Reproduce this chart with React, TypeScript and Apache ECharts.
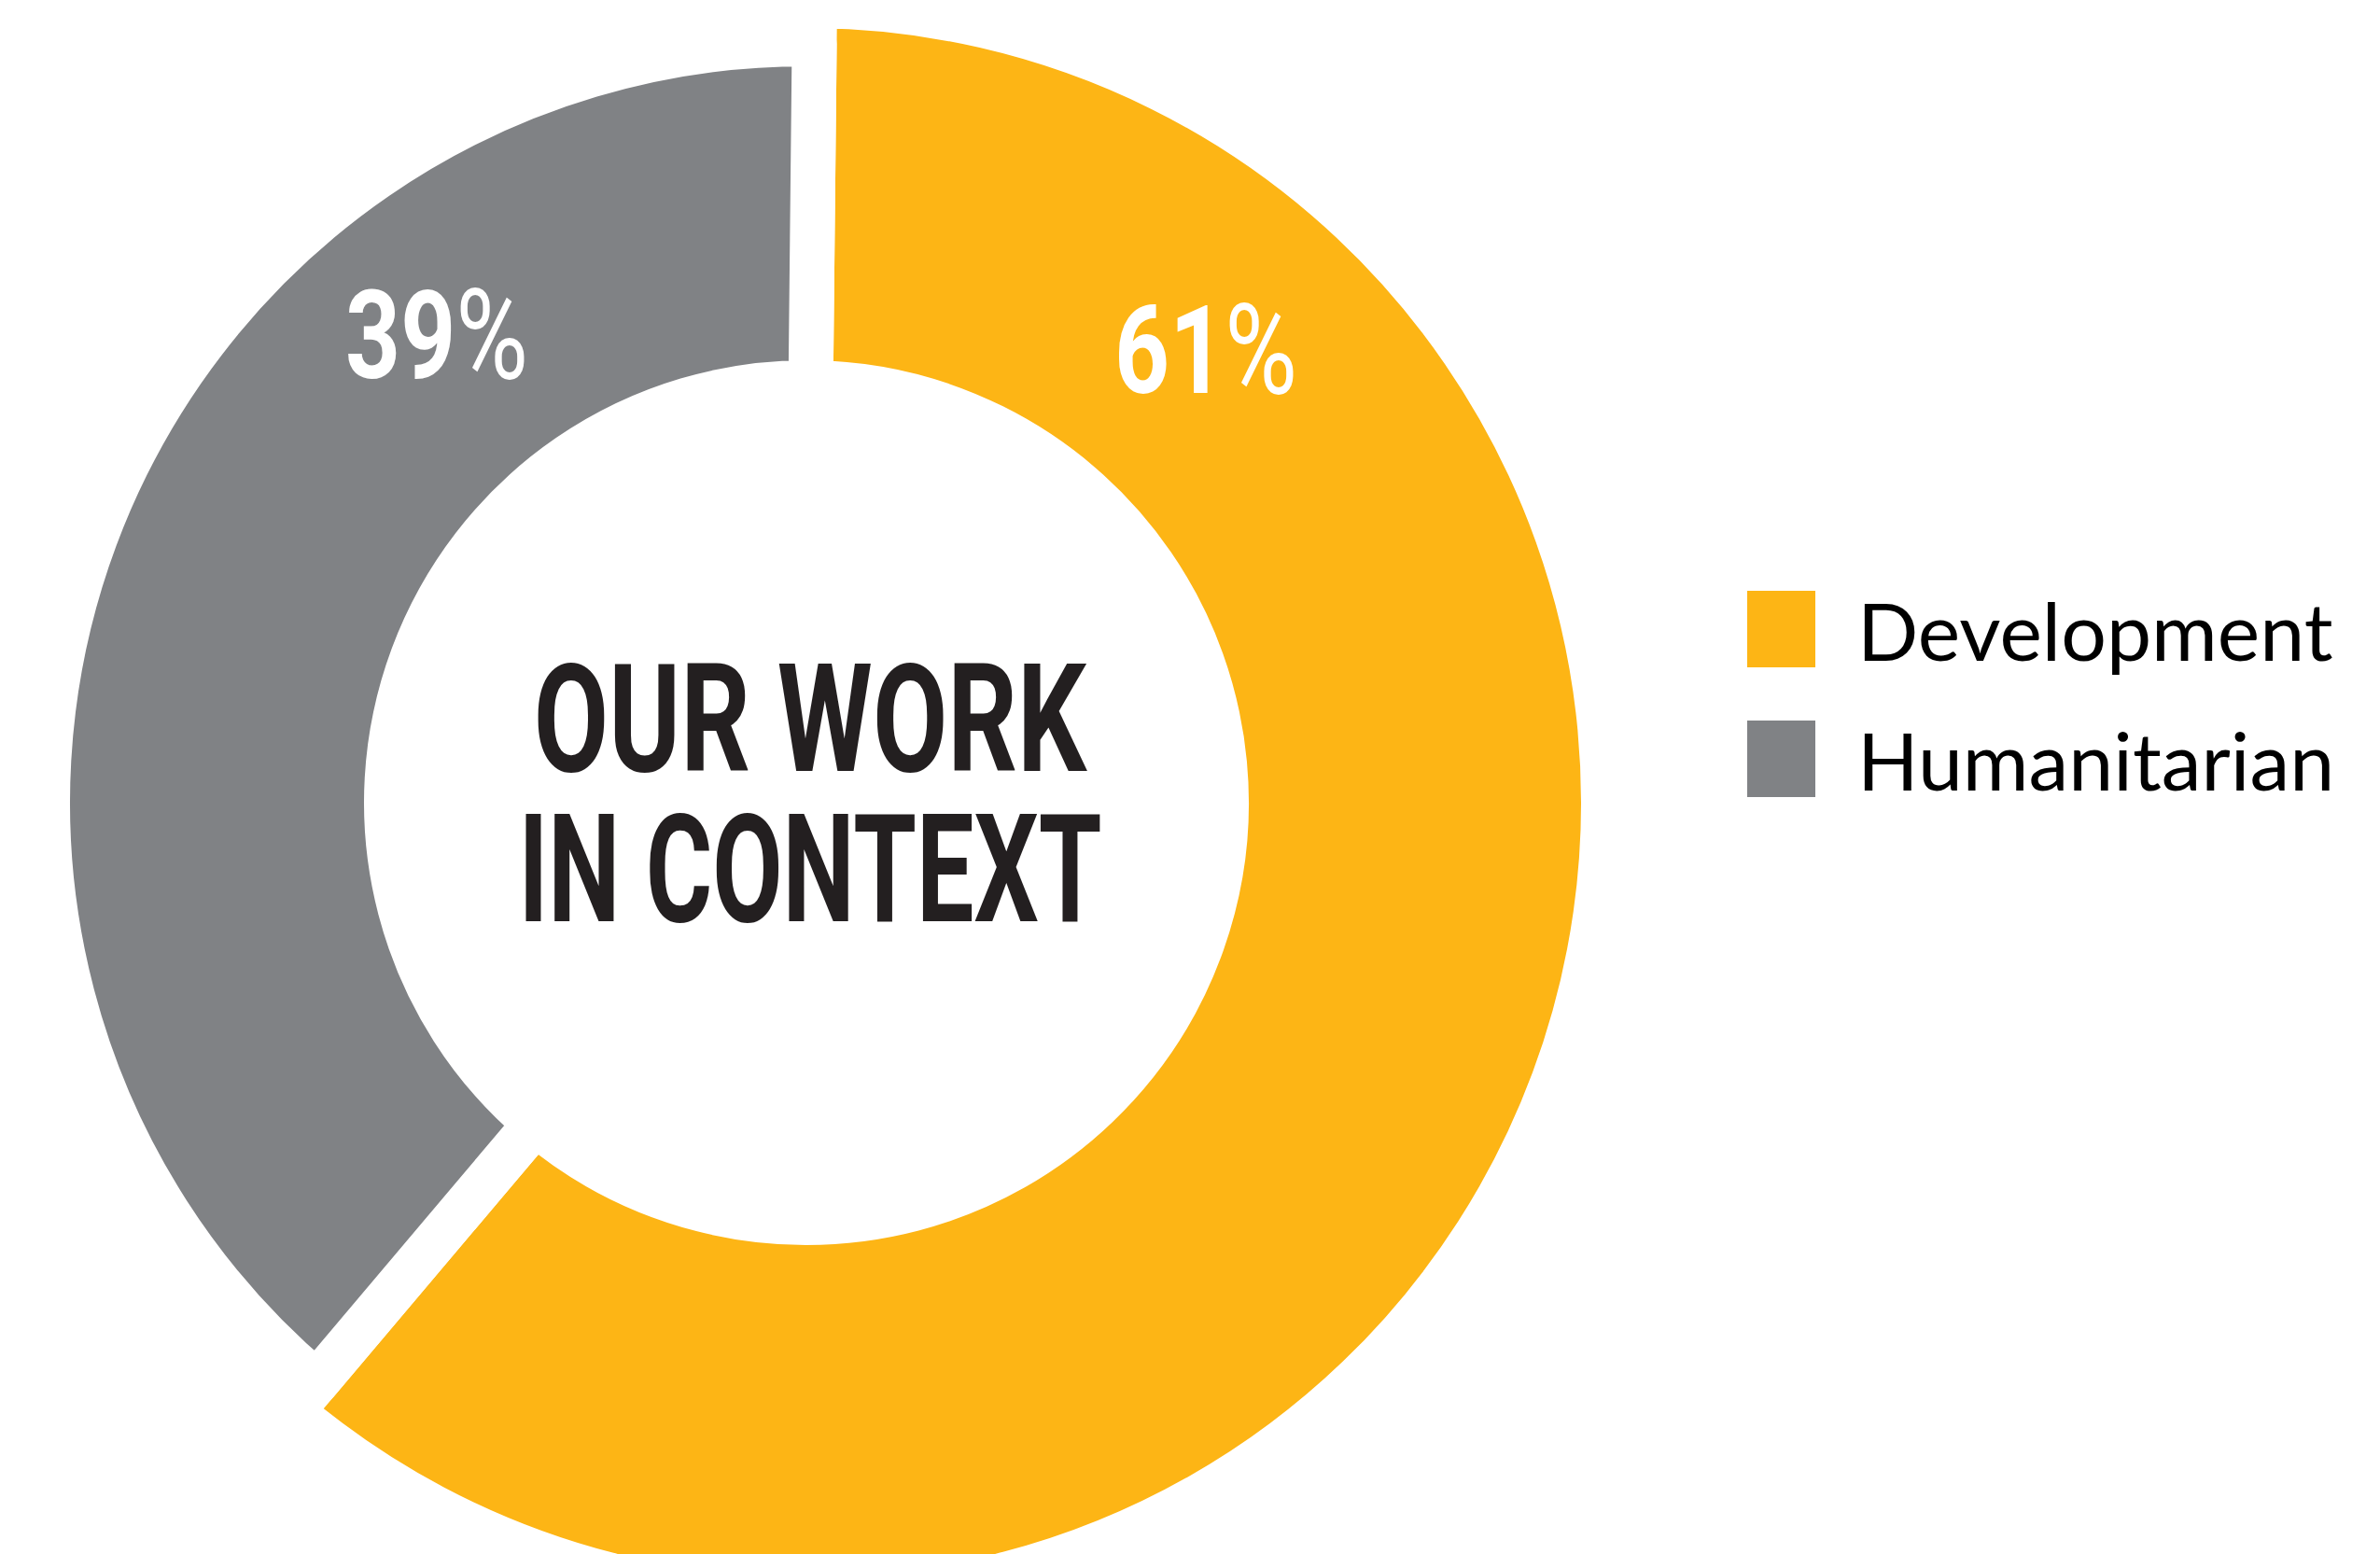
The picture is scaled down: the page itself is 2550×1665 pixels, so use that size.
import React, { useEffect, useRef } from "react";
import * as echarts from "echarts";

// ---- data ----
const categories = ["Development", "Humanitarian"];
const shares = [61, 39];
const percentLabels = ["61", "39"];
const centerTitle = ["OUR WORK", "IN CONTEXT"];

// ---- styles / layout ----
const sliceColors = ["#FDB515", "#808285"];
const CENTER: [number, number] = [864, 860];
const INNER_R = 474;
const OUTER_R = [830, 789];
const GAP = 48;
const START_ANGLE = 89.4;

export default function App() {
  const ref = useRef<HTMLDivElement>(null);

  useEffect(() => {
    if (!ref.current) return;
    const chart = echarts.init(ref.current, undefined, { renderer: "svg" });

    const series = categories.map((name, i) => ({
      type: "pie",
      name,
      center: CENTER,
      radius: [INNER_R - GAP / 2, OUTER_R[i] + GAP / 2],
      startAngle: START_ANGLE,
      clockwise: true,
      silent: true,
      animation: false,
      label: { show: false },
      labelLine: { show: false },
      emphasis: { disabled: true },
      data: categories.map((n, j) =>
        j === i
          ? {
              name: n,
              value: shares[j],
              itemStyle: { color: sliceColors[j], borderColor: "#ffffff", borderWidth: GAP },
            }
          : {
              name: "_" + n,
              value: shares[j],
              itemStyle: { color: "rgba(0,0,0,0)", borderWidth: 0 },
            }
      ),
    }));

    const labelPos = [
      [1292, 376],
      [468, 360],
    ];
    const titlePos = [
      [868, 770],
      [868, 932],
    ];
    const titleScale = [0.72, 0.675];

    const graphic: any[] = [];
    percentLabels.forEach((t, i) => {
      graphic.push({
        type: "text",
        x: labelPos[i][0],
        y: labelPos[i][1],
        scaleX: 0.78,
        z: 100,
        silent: true,
        style: {
          text: "{n|" + t + "}{p|%}",
          fill: "#ffffff",
          align: "center",
          verticalAlign: "middle",
          rich: {
            n: {
              fill: "#ffffff",
              fontFamily: "Roboto",
              fontWeight: "bold",
              fontSize: 132,
            },
            p: {
              fill: "#ffffff",
              fontFamily: "Roboto",
              fontWeight: "normal",
              fontSize: 136,
            },
          },
        },
      });
    });
    centerTitle.forEach((t, i) => {
      graphic.push({
        type: "text",
        x: titlePos[i][0],
        y: titlePos[i][1],
        scaleX: titleScale[i],
        z: 100,
        silent: true,
        style: {
          text: t,
          fill: "#231F20",
          fontFamily: "Roboto",
          fontWeight: "bold",
          fontSize: 162,
          align: "center",
          verticalAlign: "middle",
        },
      });
    });

    chart.setOption({
      animation: false,
      backgroundColor: "#ffffff",
      legend: {
        orient: "vertical",
        left: 1867,
        top: 621,
        itemWidth: 73,
        itemHeight: 82,
        itemGap: 43,
        icon: "rect",
        selectedMode: false,
        data: categories.map((n, i) => ({
          name: n,
          itemStyle: { color: sliceColors[i], borderWidth: 0 },
        })),
        itemStyle: { borderWidth: 0 },
        textStyle: {
          fontFamily: "Lato",
          fontSize: 86,
          color: "#000000",
          lineHeight: 82,
          padding: [0, 0, 14, 40],
        },
      },
      series,
      graphic,
    } as any);

    return () => chart.dispose();
  }, []);

  return (
    <div
      ref={ref}
      style={{ position: "fixed", left: 0, top: 0, width: 2550, height: 1665 }}
    />
  );
}
